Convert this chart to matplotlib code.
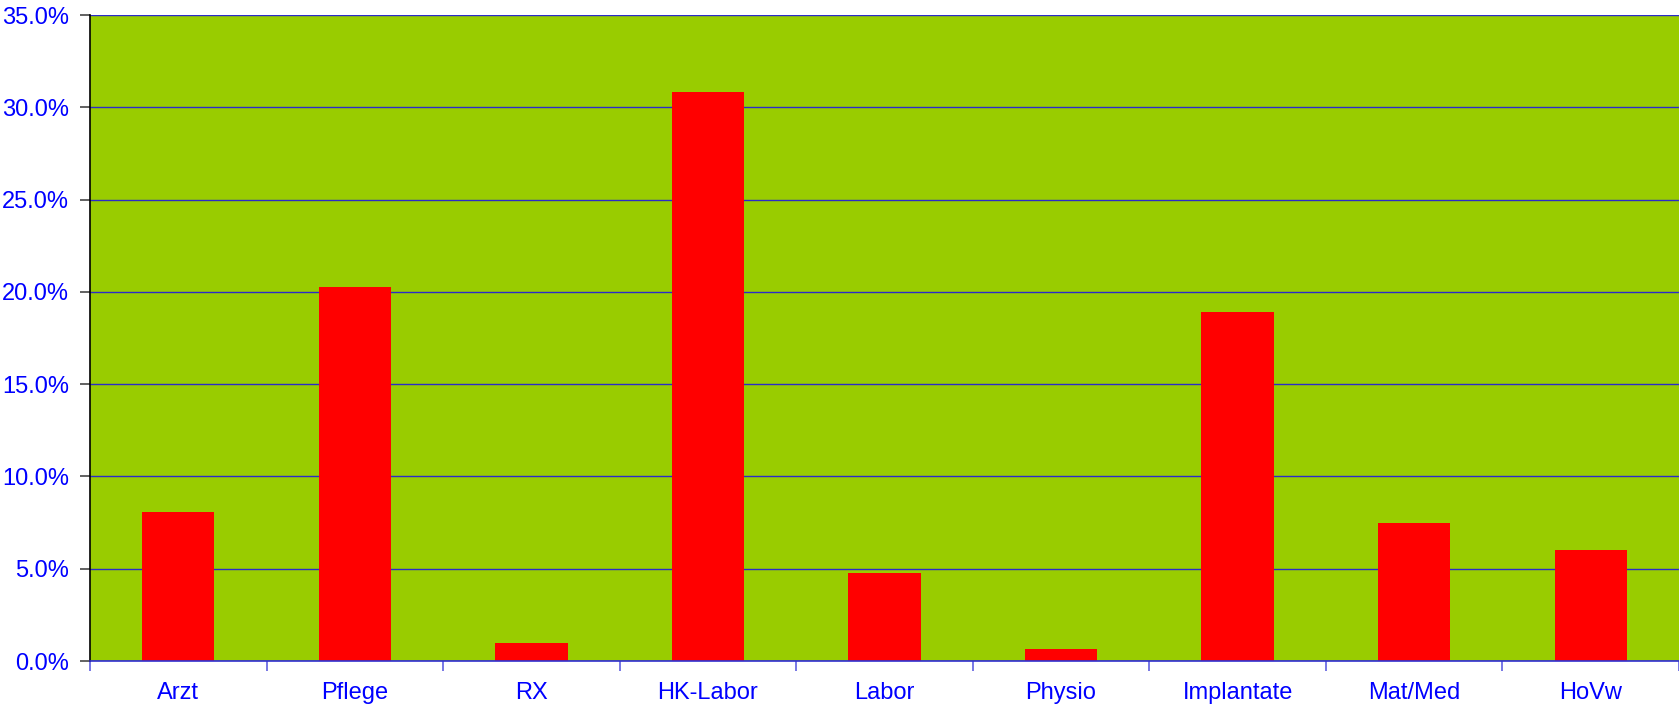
import matplotlib.pyplot as plt
import numpy as np
from matplotlib.ticker import FuncFormatter, FixedLocator

plt.rcParams['font.family'] = ['Liberation Sans', 'DejaVu Sans']

# Kostenanteile je Kostenart (in %)
categories = ['Arzt', 'Pflege', 'RX', 'HK-Labor', 'Labor', 'Physio',
              'Implantate', 'Mat/Med', 'HoVw']
shares = [8.07, 20.26, 0.98, 30.83, 4.77, 0.65, 18.91, 7.49, 6.04]

fig = plt.figure(figsize=(16.79, 7.10), dpi=100)
ax = fig.add_axes([90 / 1679, 49 / 710, 1 - 90 / 1679, 646 / 710])

x = np.arange(len(categories))
ax.set_facecolor('#99CC00')
ax.bar(x, shares, width=0.41, color='#FF0000', zorder=3)

ax.set_xlim(-0.5, len(categories) - 0.5)
ax.set_ylim(0, 35)
ax.set_yticks(np.arange(0, 36, 5))
ax.yaxis.set_major_formatter(FuncFormatter(lambda v, p: f'{v:.1f}%'))
ax.grid(axis='y', color='#2b2bc8', linewidth=1.0, zorder=1)

# category labels centred, tick marks between categories
ax.set_xticks(x)
ax.set_xticklabels(categories)
ax.xaxis.set_minor_locator(FixedLocator(np.arange(-0.5, len(categories), 1.0)))
ax.tick_params(axis='x', which='major', length=0, pad=15, labelsize=17,
               labelcolor='#0000FF')
ax.tick_params(axis='x', which='minor', length=7, width=1.2, color='#6060E0',
               direction='out')
ax.tick_params(axis='y', length=7, width=1.3, color='#555555', pad=8,
               labelsize=17, labelcolor='#0000FF')

for side in ['top', 'right']:
    ax.spines[side].set_visible(False)
ax.spines['left'].set_color('black')
ax.spines['left'].set_linewidth(1.2)
ax.spines['bottom'].set_color('#3030D0')
ax.spines['bottom'].set_linewidth(1.2)
ax.spines['bottom'].set_zorder(4)

fig.savefig('out.png', dpi=100, facecolor='white')
